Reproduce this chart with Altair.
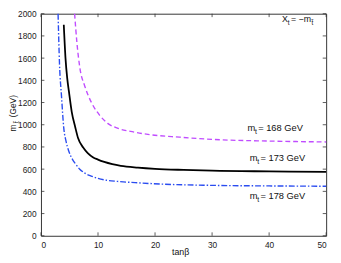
import altair as alt
import pandas as pd

# ---- data ----
tanb_168 = [5.9, 6.3, 6.8, 7.7, 8.85, 10.3, 11.7, 13.4, 15.7, 19.1, 24.3, 30, 40, 50]
mst_168 = [2000, 1740, 1519, 1345, 1200, 1085, 1012, 969, 940, 911, 888, 868, 853, 845]

tanb_173 = [4.0, 4.3, 4.6, 4.9, 5.4, 6.0, 6.5, 7.4, 8.2, 9.1, 10, 11.1, 12.5, 14, 17, 20, 25, 30, 40, 50]
mst_173 = [1900, 1600, 1420, 1300, 1114, 980, 880, 795, 745, 708, 686, 665, 645, 630, 614, 603, 593, 586, 580, 576]

tanb_178 = [3.0, 3.25, 3.6, 4.0, 4.4, 4.85, 5.4, 6.0, 6.8, 7.7, 8.8, 10, 11.5, 13.4, 16.9, 21.4, 30, 40, 50]
mst_178 = [2000, 1548, 1258, 969, 850, 766, 700, 651, 600, 564, 538, 517, 500, 490, 477, 465, 454, 449, 446]

x_ticks = [0, 10, 20, 30, 40, 50]
y_ticks = [0, 200, 400, 600, 800, 1000, 1200, 1400, 1600, 1800, 2000]

label_x = [36.2, 36.6, 36.6]
label_y = [940, 671, 332]
label_rest = ["= 168 GeV", "= 173 GeV", "= 178 GeV"]

W, H = 291.5, 227
FONT = "Liberation Sans"

xscale = alt.Scale(domain=[0, 50], nice=False, zero=False)
yscale = alt.Scale(domain=[0, 2000], nice=False, zero=False)
XA = alt.Axis(values=x_ticks, tickSize=0, domain=False, grid=False, format="d",
              labelFontSize=8.5, labelPadding=5, labelFont=FONT,
              labelColor="#222", title=None)
YA = alt.Axis(values=y_ticks, tickSize=0, domain=False, grid=False, format="d",
              labelFontSize=8.5, labelPadding=5, labelFont=FONT,
              labelColor="#222", title=None)

def X(field):
    return alt.X(field, scale=xscale, axis=XA)

def Y(field):
    return alt.Y(field, scale=yscale, axis=YA)

def line(xs, ys, color, dash, width):
    df = pd.DataFrame({"tanb": xs, "m": ys})
    kw = dict(color=color, strokeWidth=width, interpolate="monotone")
    if dash:
        kw["strokeDash"] = dash
    return alt.Chart(df).mark_line(**kw).encode(
        x=X("tanb:Q"), y=Y("m:Q"), order="tanb:Q")

l168 = line(tanb_168, mst_168, "#c04cff", [5, 3], 1.4)
l173 = line(tanb_173, mst_173, "#000000", None, 1.8)
l178 = line(tanb_178, mst_178, "#2a4cf0", [6, 2, 1.5, 2], 1.4)

# inward ticks
xt = pd.DataFrame({"v": x_ticks})
yt = pd.DataFrame({"v": y_ticks})
TL = 3.5
tick_style = dict(color="#333", strokeWidth=0.8)
xb = alt.Chart(xt).mark_rule(**tick_style).encode(
    x=X("v:Q"), y=alt.value(H), y2=alt.value(H - TL))
xtop = alt.Chart(xt).mark_rule(**tick_style).encode(
    x=X("v:Q"), y=alt.value(0), y2=alt.value(TL))
yl = alt.Chart(yt).mark_rule(**tick_style).encode(
    y=Y("v:Q"), x=alt.value(0), x2=alt.value(TL))
yr = alt.Chart(yt).mark_rule(**tick_style).encode(
    y=Y("v:Q"), x=alt.value(W), x2=alt.value(W - TL))

# curve labels
lab = pd.DataFrame({"x": label_x, "y": label_y, "rest": label_rest,
                    "m": ["m"] * 3, "sub": ["t"] * 3})
def lab_text(field, dx, dy, size):
    return alt.Chart(lab).mark_text(align="left", baseline="alphabetic", font=FONT,
                                    fontSize=size, color="#111", dx=dx, dy=dy).encode(
        x=X("x:Q"), y=Y("y:Q"), text=f"{field}:N")
lab_m = lab_text("m", 0, 0, 9.5)
lab_sub = lab_text("sub", 7.6, 3, 7)
lab_rest = lab_text("rest", 11, 0, 9.5)

def ptext(txt, x, y, size, angle=0, align="left", baseline="alphabetic"):
    kw = dict(text=txt, font=FONT, fontSize=size, color="#111", align=align,
              baseline=baseline)
    if angle:
        kw["angle"] = angle
    return alt.Chart(pd.DataFrame({"a": [0]})).mark_text(**kw).encode(
        x=alt.value(x), y=alt.value(y))

# top-right annotation  X_t = -m_t~
xt1 = ptext("X", 246.3, 8.5, 9)
xt2 = ptext("t", 252.3, 11.5, 6.5)
xt3 = ptext("= \u2212m", 255.5, 8.5, 9)
xt4 = ptext("t\u0303", 276.5, 11.5, 6.5)

# axis titles
xtitle = ptext("tan\u03b2", W / 2 - 3, H + 19.5, 9, align="center")
yt_m = ptext("m", -25.5, 117, 8.5, angle=270, align="center")
yt_sub = ptext("t\u0303", -22.8, 110.8, 6.5, angle=270, align="center")
yt_gev = ptext("(GeV)", -25.5, 94.5, 8.5, angle=270, align="center")

chart = alt.layer(
    l168, l173, l178, xb, xtop, yl, yr,
    lab_m, lab_sub, lab_rest,
    xt1, xt2, xt3, xt4,
    xtitle, yt_m, yt_sub, yt_gev,
).properties(
    width=W, height=H,
    padding={"left": 33.7, "top": 3, "right": 7, "bottom": 25},
    autosize="none",
).configure_view(stroke="#333", strokeWidth=1)

chart.save("out.html", embed_options={"renderer": "svg", "actions": False})
